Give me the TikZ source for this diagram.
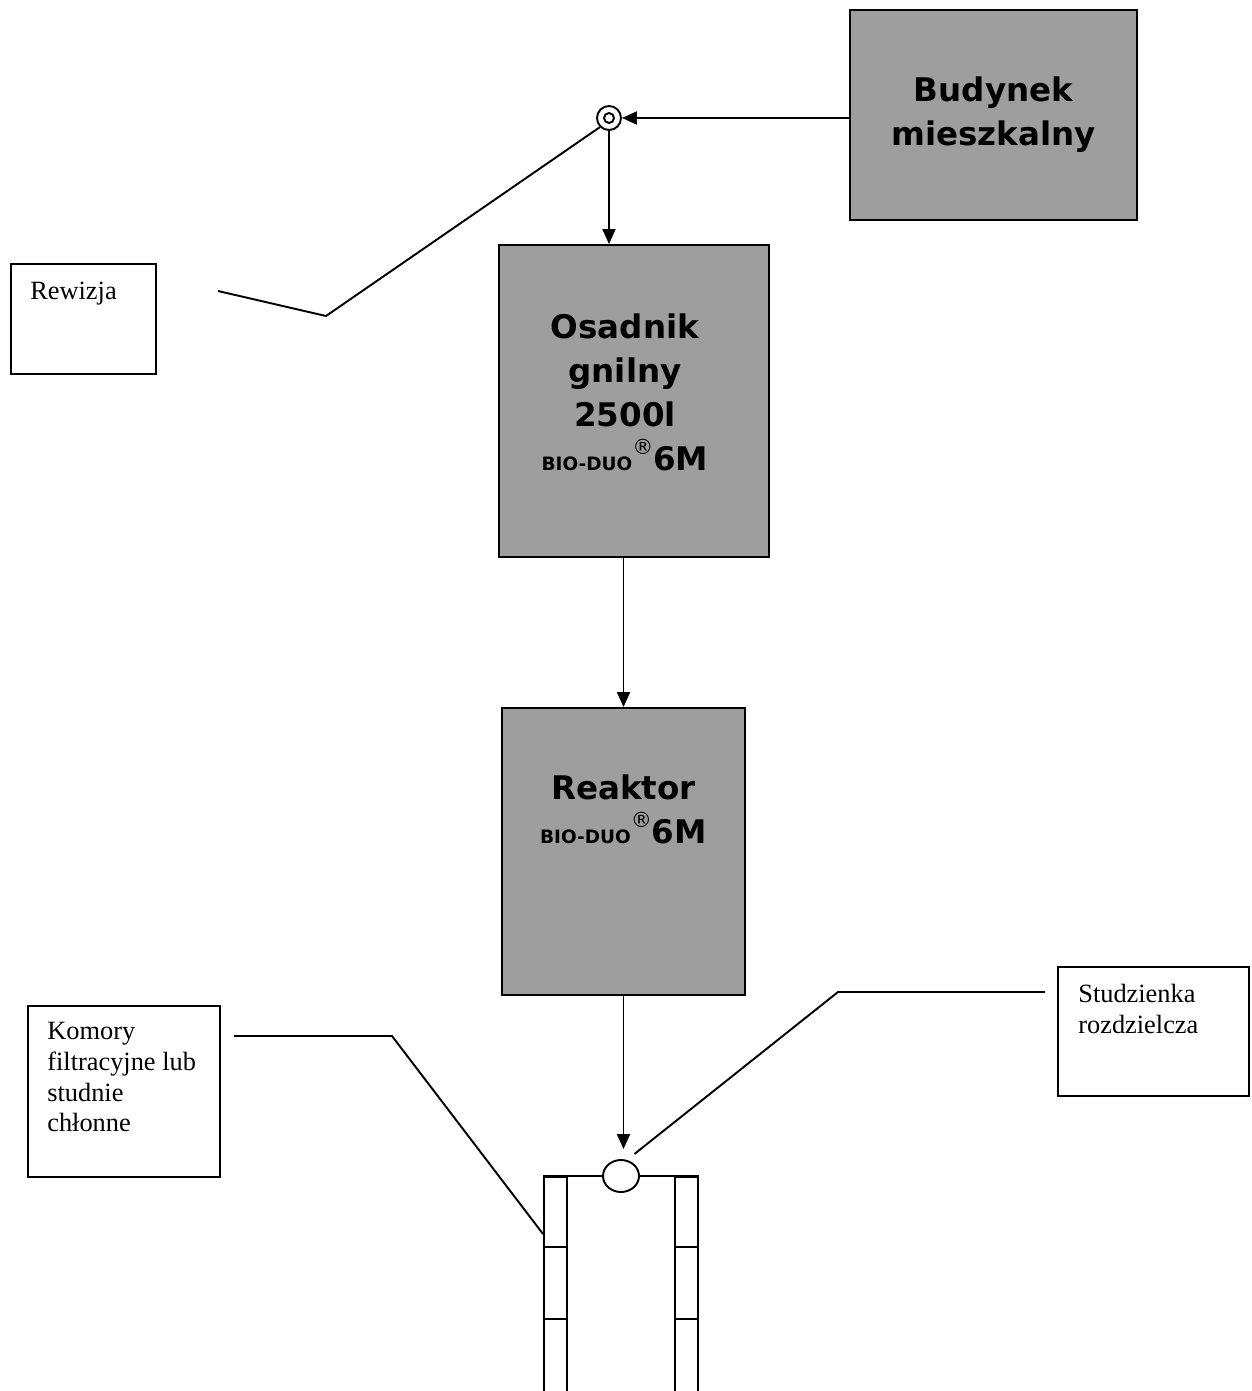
\documentclass[tikz,border=0pt]{standalone}
\usepackage{fontspec}
\setmainfont{Liberation Serif}
\newfontfamily\verdana{DejaVu Sans}
\usepackage{tikz}
\usetikzlibrary{arrows.meta}
\usetikzlibrary{shapes.geometric}
\colorlet{tankgray}{black!38}

\newcommand{\biomark}{{\fontsize{10.5}{12}\selectfont BIO-DUO}\raisebox{0.85ex}{\fontsize{12}{12}\selectfont\mdseries ®}6M}

\begin{document}
\begin{tikzpicture}[
  tanktext/.style={align=center, inner sep=2pt, font=\verdana\bfseries\fontsize{18.5}{25}\selectfont},
  tank/.style={draw, line width=1.1pt, fill=tankgray},
  note/.style={draw, line width=1.1pt, anchor=north west, inner sep=0pt},
  notetext/.style={anchor=north west, align=left, inner sep=0pt, font=\fontsize{15}{17.5}\selectfont},
  flow/.style={line width=1.1pt, -{Triangle[length=0.3cm,width=0.26cm]}},
  leader/.style={line width=1.1pt},
  cell/.style={draw, line width=1.1pt, anchor=north west, minimum width=0.46cm, inner sep=0pt}
]
\useasboundingbox (0,0) rectangle (25.02,-27.82);

\node[tank, minimum width=5.74cm, minimum height=4.2cm] (bud) at (19.87,-2.30) {};
\node[tanktext] (budlbl) at (19.87,-2.30) {Budynek\\mieszkalny};
\node[circle, draw, line width=1.1pt, minimum size=0.48cm, inner sep=0pt] (rew) at (12.18,-2.36) {};
\draw[line width=1.1pt] (rew.center) circle (0.1cm);

\node[tank, minimum width=5.40cm, minimum height=6.24cm] (osad) at (12.68,-8.02) {};
\node[tanktext] (osadlbl) at (12.50,-7.84) {Osadnik\\gnilny\\2500l\\\biomark};

\node[tank, minimum width=4.86cm, minimum height=5.74cm] (reak) at (12.47,-17.03) {};
\node[tanktext] (reaklbl) at (12.47,-16.18) {Reaktor\\\biomark};

\draw[flow] (bud.west |- rew) -- (rew);
\draw[flow] (rew) -- (rew |- osad.north);
\draw[flow] (reak.north |- osad.south) -- (reak.north);

% studzienka i komory
\node[ellipse, draw, line width=1.1pt, minimum width=0.72cm, minimum height=0.64cm, inner sep=0pt] (stud) at (12.42,-23.52) {};
\draw[flow, shorten >=0.2cm] (reak.south) -- (reak.south |- stud.north);

\foreach \x/\c in {10.86/l, 13.48/r}
  \foreach \y/\h/\k in {-23.52/1.40cm/1, -24.92/1.44cm/2, -26.36/1.60cm/3}
    \node[cell, minimum height=\h] (\c\k) at (\x,\y) {};
\draw[leader] (l1.north west) -- (stud.west);
\draw[leader] (stud.east) -- (r1.north east);

% opisy
\node[note, minimum width=2.90cm, minimum height=2.20cm] (rewbox) at (0.20,-5.26) {};
\node[notetext] (rewtxt) at ([shift={(0.40,-0.38)}]rewbox.north west) {Rewizja};
\coordinate (rewa) at (4.36,-5.82);
\coordinate (rewb) at (6.52,-6.32);
\draw[leader] (rewa) -- (rewb) -- (rew.south west);

\node[note, minimum width=3.84cm, minimum height=3.42cm] (kombox) at (0.54,-20.10) {};
\node[notetext] (komtxt) at ([shift={(0.40,-0.34)}]kombox.north west) {Komory\\filtracyjne lub\\studnie\\chłonne};
\coordinate (koma) at (4.68,-20.72);
\coordinate (komb) at (7.84,-20.72);
\draw[leader] (koma) -- (komb) -- ([yshift=0.28cm]l1.south west);

\node[note, minimum width=3.82cm, minimum height=2.58cm] (studbox) at (21.14,-19.32) {};
\node[notetext] (studtxt) at ([shift={(0.42,-0.36)}]studbox.north west) {Studzienka\\rozdzielcza};
\coordinate (studa) at (20.90,-19.84);
\coordinate (studb) at (16.76,-19.84);
\draw[leader] (studa) -- (studb) -- ([yshift=0.2cm]stud.north east);
\end{tikzpicture}
\end{document}
